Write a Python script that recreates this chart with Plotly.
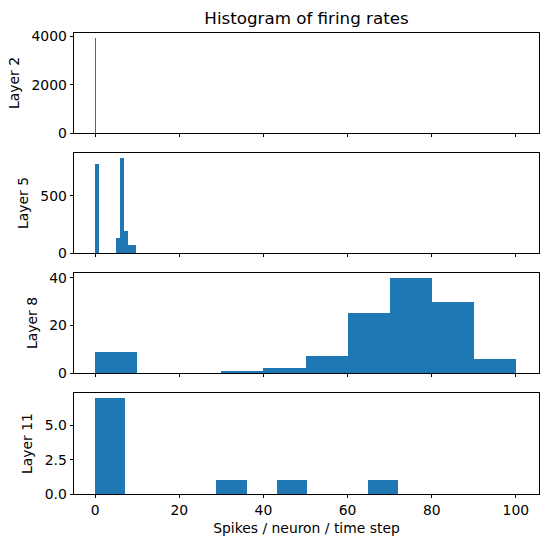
import plotly.graph_objects as go
import numpy as np

# ---- data ----
layer_names = ["Layer 2", "Layer 5", "Layer 8", "Layer 11"]

layer2_edges = [0.0, 0.2]
layer2_counts = [3950]

layer5_edges = [0.0, 0.97, 1.94, 2.91, 3.88, 4.85, 5.82, 6.79, 7.76, 8.73, 9.70]
layer5_counts = [775, 0, 0, 0, 0, 133, 830, 193, 72, 72]

layer8_edges = [0, 10, 20, 30, 40, 50, 60, 70, 80, 90, 100]
layer8_counts = [9, 0, 0, 1, 2, 7, 25, 40, 30, 6]

layer11_edges = [0.0, 7.2, 14.4, 21.6, 28.8, 36.0, 43.2, 50.4, 57.6, 64.8, 72.0]
layer11_counts = [7, 0, 0, 0, 1, 0, 1, 0, 0, 1]

x_ticks = [0, 20, 40, 60, 80, 100]
y_ticks = [[0, 2000, 4000], [0, 500], [0, 20, 40], [0.0, 2.5, 5.0]]
y_tickfmt = ["d", "d", "d", ".1f"]

title = "Histogram of firing rates"
x_title = "Spikes / neuron / time step"

all_edges = [layer2_edges, layer5_edges, layer8_edges, layer11_edges]
all_counts = [layer2_counts, layer5_counts, layer8_counts, layer11_counts]

# ---- figure ----
W, H = 549, 547
ml, mr, mt, mb = 74, 10, 33, 53
plot_h = H - mt - mb
rows_px = [(33, 133), (153, 253), (273, 373), (393, 494)]

FONT = "DejaVu Sans"
BLUE = "#1f77b4"

fig = go.Figure()
layout = dict(
    width=W, height=H,
    margin=dict(l=ml, r=mr, t=mt, b=mb, pad=0),
    plot_bgcolor="white", paper_bgcolor="white",
    showlegend=False, bargap=0,
    font=dict(family=FONT, size=13.9, color="black"),
)

for i, (edges, counts) in enumerate(zip(all_edges, all_counts)):
    e = np.array(edges, dtype=float)
    centers = (e[:-1] + e[1:]) / 2
    widths = np.diff(e)
    idx = "" if i == 0 else str(i + 1)
    fig.add_trace(go.Bar(
        x=centers, y=counts, width=widths,
        marker=dict(color=BLUE, line=dict(width=0)),
        xaxis="x" + idx, yaxis="y" + idx,
    ))
    top, bot = rows_px[i]
    dom = [(H - mb - bot) / plot_h, (H - mb - top) / plot_h]
    ymax = max(counts) * 1.05
    layout["xaxis" + idx] = dict(
        domain=[0, 1], anchor="y" + idx, range=[-5.03, 105.5],
        tickvals=x_ticks, showticklabels=(i == 3),
        ticks="outside", ticklen=3.5, tickwidth=0.8, tickcolor="black",
        showline=True, mirror=True, linecolor="black", linewidth=0.8,
        showgrid=False, zeroline=False,
        tickfont=dict(family=FONT, size=13.9, color="black"),
        matches=None if i == 0 else "x",
    )
    layout["yaxis" + idx] = dict(
        domain=dom, anchor="x" + idx, range=[0, ymax],
        tickvals=y_ticks[i], tickformat=y_tickfmt[i],
        ticks="outside", ticklen=3.5, tickwidth=0.8, tickcolor="black",
        showline=True, mirror=True, linecolor="black", linewidth=0.8,
        showgrid=False, zeroline=False,
        tickfont=dict(family=FONT, size=13.9, color="black"),
        title=dict(text=layer_names[i], font=dict(family=FONT, size=13.9, color="black"), standoff=8),
    )

layout["xaxis4"]["title"] = dict(text=x_title, font=dict(family=FONT, size=13.9, color="black"), standoff=6)
layout["title"] = dict(text=title, x=(ml + (W - mr - ml) / 2) / W, xanchor="center",
                       y=1 - 18 / H, yanchor="middle",
                       font=dict(family=FONT, size=16.7, color="black"))
fig.update_layout(**layout)
fig.write_html("out.html")
